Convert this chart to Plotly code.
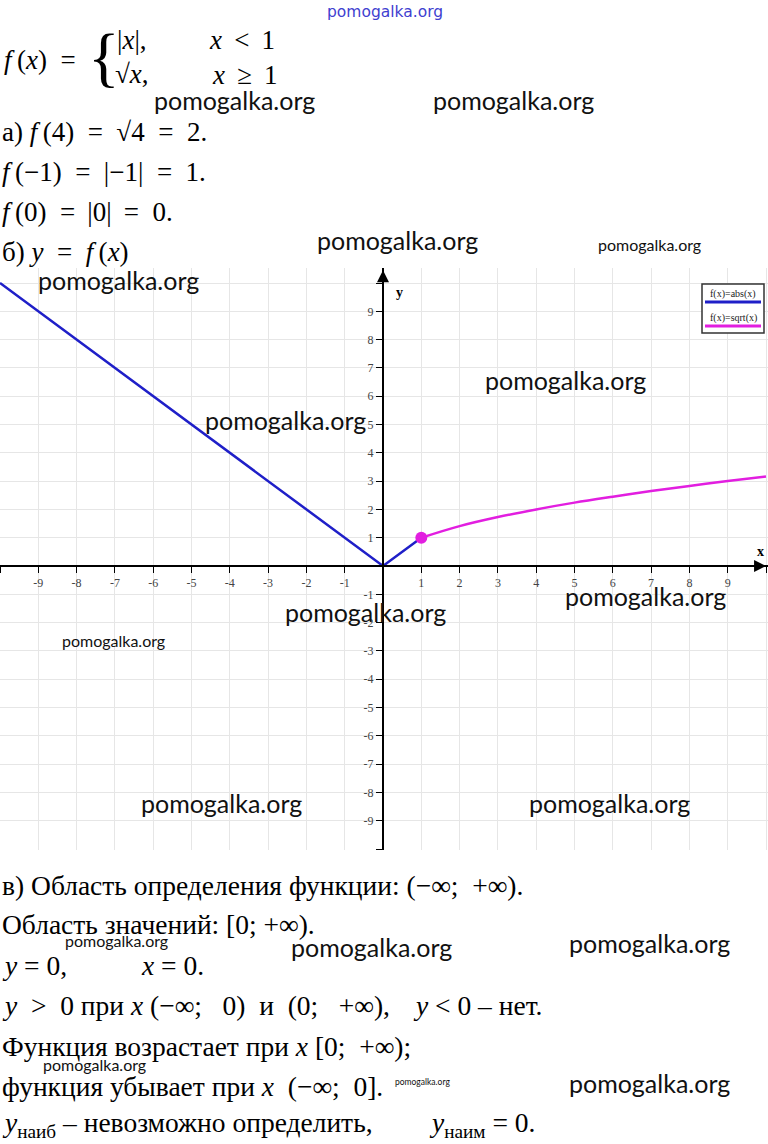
import plotly.graph_objects as go

W, H = 768, 1144

# ---- data ----
abs_x = [-10, 0, 1]
abs_y = [10, 0, 1]
sqrt_x = [1, 2, 3, 4, 5, 6, 7, 8, 9, 10]
sqrt_y = [1, 1.41, 1.73, 2, 2.24, 2.45, 2.65, 2.83, 3, 3.16]
point_x = [1]
point_y = [1]
tick_vals = [-10, -9, -8, -7, -6, -5, -4, -3, -2, -1, 0, 1, 2, 3, 4, 5, 6, 7, 8, 9, 10]
tick_text = ["", "-9", "-8", "-7", "-6", "-5", "-4", "-3", "-2", "-1", "", "1", "2", "3", "4", "5", "6", "7", "8", "9", ""]
legend_labels = ["f(x)=abs(x)", "f(x)=sqrt(x)"]

BLUE = "#1f1fc8"
MAG = "#e21ee0"
SERIF = "Liberation Serif"
S = "\u00a0"      # non-breaking space
S2 = S + S
S3 = S + S + S
T = "\u2009"      # thin space
F = f"<i>f</i>{T}"

def px(x):
    return x / W

def py(y):
    return 1 - y / H

# plot geometry (pixels)
top_px, bot_px = 268, 850
x0_px, xunit = 383, 38.3
y0_px, yunit = 566, 28.3
xr = [-x0_px / xunit, (W - x0_px) / xunit]
yr = [(y0_px - bot_px) / yunit, (y0_px - top_px) / yunit]

fig = go.Figure()
fig.add_trace(go.Scatter(x=abs_x, y=abs_y, mode="lines", line=dict(color=BLUE, width=2.5),
                         name=legend_labels[0], showlegend=False))
fig.add_trace(go.Scatter(x=sqrt_x, y=sqrt_y, mode="lines", line=dict(color=MAG, width=2.5, shape="spline"),
                         name=legend_labels[1], showlegend=False))
fig.add_trace(go.Scatter(x=point_x, y=point_y, mode="markers", marker=dict(color=MAG, size=12),
                         showlegend=False))

fig.update_layout(
    width=W, height=H, margin=dict(l=0, r=0, t=0, b=0),
    paper_bgcolor="white", plot_bgcolor="white",
    xaxis=dict(range=xr, domain=[0, 1], anchor="free", position=py(y0_px),
               tickvals=tick_vals, ticktext=tick_text, ticks="outside", ticklen=6, tickwidth=1,
               tickcolor="black", showgrid=True, gridcolor="#e6e6e6", gridwidth=1,
               showline=True, linecolor="black", linewidth=2, zeroline=False,
               tickfont=dict(family=SERIF, size=12, color="#444")),
    yaxis=dict(range=yr, domain=[py(bot_px), py(top_px)], anchor="free", position=px(x0_px),
               tickvals=tick_vals, ticktext=tick_text, ticks="outside", ticklen=6, tickwidth=1,
               tickcolor="black", showgrid=True, gridcolor="#e6e6e6", gridwidth=1,
               showline=True, linecolor="black", linewidth=2, zeroline=False,
               tickfont=dict(family=SERIF, size=12, color="#444")),
)

ann = []

# axis arrows and labels
ann.append(dict(x=xr[1] - 0.05, y=0, xref="x", yref="y", ax=-14, ay=0, showarrow=True,
                arrowhead=2, arrowsize=1.2, arrowwidth=2, arrowcolor="black", text=""))
ann.append(dict(x=0, y=10.45, xref="x", yref="y", ax=0, ay=14, showarrow=True,
                arrowhead=2, arrowsize=1.2, arrowwidth=2, arrowcolor="black", text=""))
ann.append(dict(x=px(760), y=py(551), xref="paper", yref="paper", text="<b>x</b>", showarrow=False,
                xanchor="center", yanchor="middle", font=dict(family=SERIF, size=14, color="black")))
ann.append(dict(x=px(399), y=py(293), xref="paper", yref="paper", text="<b>y</b>", showarrow=False,
                xanchor="center", yanchor="middle", font=dict(family=SERIF, size=14, color="black")))

# legend box
fig.add_shape(type="rect", xref="paper", yref="paper", x0=px(702), x1=px(764), y0=py(284), y1=py(333),
              line=dict(color="#333", width=1.5), fillcolor="white")
fig.add_shape(type="line", xref="paper", yref="paper", x0=px(705), x1=px(761), y0=py(302), y1=py(302),
              line=dict(color=BLUE, width=3))
fig.add_shape(type="line", xref="paper", yref="paper", x0=px(705), x1=px(761), y0=py(326), y1=py(326),
              line=dict(color=MAG, width=3))
ann.append(dict(x=px(733), y=py(294), xref="paper", yref="paper", text=legend_labels[0], showarrow=False,
                xanchor="center", yanchor="middle", font=dict(family=SERIF, size=10, color="#222")))
ann.append(dict(x=px(733), y=py(318), xref="paper", yref="paper", text=legend_labels[1], showarrow=False,
                xanchor="center", yanchor="middle", font=dict(family=SERIF, size=10, color="#222")))

def text(x, y, s, size=27, anchor="left", family=SERIF, color="black", **kw):
    ann.append(dict(x=px(x), y=py(y), xref="paper", yref="paper", text=s, showarrow=False,
                    xanchor=anchor, yanchor="middle", font=dict(family=family, size=size, color=color), **kw))

# top formula
text(2, 60, f"{F}(<i>x</i>){S2}={S}")
text(86, 56, "{", size=66)
text(115, 40, "|<i>x</i>|,")
text(207, 40, f"<i>x</i>{S}{T}&lt;{S}{T}1")
text(113, 74, "√<i>x</i>,")
text(210, 75, f"<i>x</i>{S}{T}≥{S}{T}1")

text(0, 132, f"а){S}{F}(4){S2}={S2}√4{S2}={S2}2.")
text(0, 172, f"{F}(−1){S2}={S2}|−1|{S2}={S2}1.")
text(0, 212, f"{F}(0){S2}={S}{T}|0|{S}{T}={S2}0.")
text(0, 252, f"б){S}<i>y</i>{S2}={S2}{F}(<i>x</i>)")

# bottom text
B = 27.5
text(0, 885, f"в) Область определения функции: (−∞;{S2}+∞).", size=B)
text(0, 924, f"Область значений: [0;{S}+∞).", size=B)
text(0, 965, f"<i>y</i>{S}={S}0,", size=B)
text(139, 965, f"<i>x</i>{S}={S}0.", size=B)
text(0, 1005, f"<i>y</i>{S2}&gt;{S2}0 при <i>x</i>{S}(−∞;{S3}0){S2}и{S2}(0;{S3}+∞),", size=B)
text(411, 1005, f"<i>y</i>{S}&lt;{S}0 – нет.", size=B)
text(0, 1046, f"Функция возрастает при <i>x</i> [0;{S2}+∞);", size=B)
text(0, 1086, f"функция убывает при <i>x</i>{S2}(−∞;{S2}0].", size=B)
text(0, 1124, f"<i>y</i><sub>наиб</sub>{S}–{S}невозможно определить,", size=B)
text(427, 1124, f"<i>y</i><sub>наим</sub>{S}={S}0.", size=B)

# watermarks
WM = "pomogalka.org"
wm_big = [(234, 100), (513, 100), (397, 240), (118, 280), (565, 380), (285, 420),
          (365, 612), (645, 596), (221, 803), (609, 803), (371, 947), (649, 943), (649, 1083)]
wm_small = [(649, 244), (113, 640), (116, 940), (94, 1064)]
for (x, y) in wm_big:
    text(x, y, WM, size=25, anchor="center", family="Lato", color="#111")
for (x, y) in wm_small:
    text(x, y, WM, size=16, anchor="center", family="Lato", color="#111")
text(422, 1082, WM, size=8.5, anchor="center", family="Lato", color="#111")
text(385, 12, WM, size=15.5, anchor="center", family="DejaVu Sans", color="#4040d0")

fig.update_layout(annotations=ann)
fig.write_html("out.html", config={"displayModeBar": False},
               post_script="document.body.style.margin='0px';document.body.style.overflow='hidden';")
